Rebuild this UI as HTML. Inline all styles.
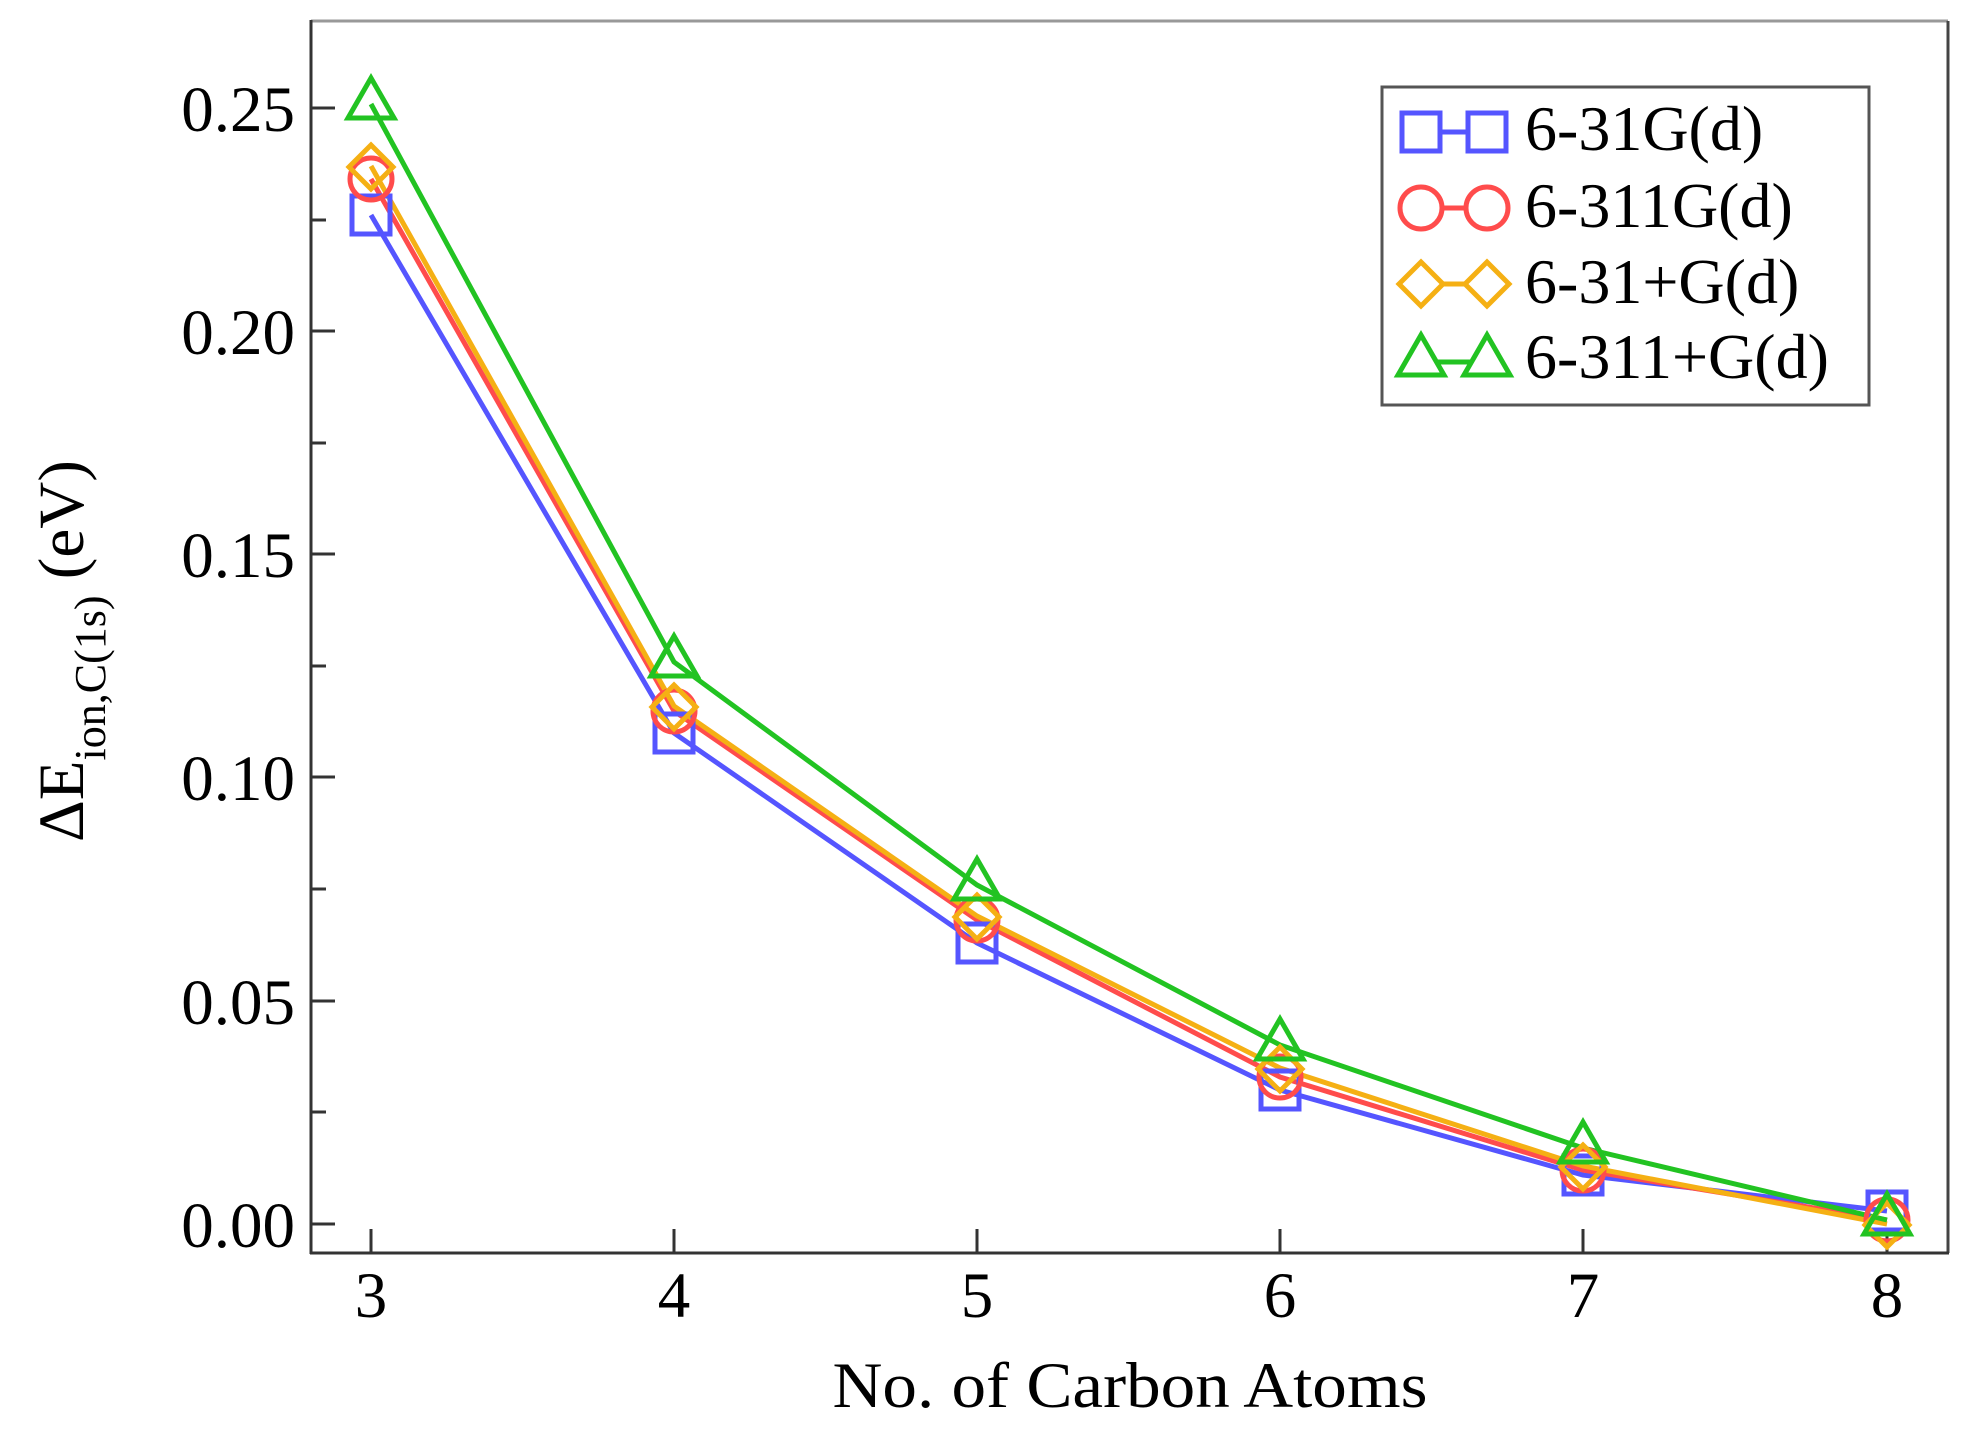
<!DOCTYPE html>
<html><head><meta charset="utf-8"><style>
html,body{margin:0;padding:0;background:#fff;}
svg{display:block;}
text{font-family:"Liberation Serif",serif;fill:#000;}
</style></head><body>
<svg width="1977" height="1445" viewBox="0 0 1977 1445" xmlns="http://www.w3.org/2000/svg">
<rect width="1977" height="1445" fill="#fff"/>
<line x1="311" y1="21" x2="1948" y2="21" stroke="#999" stroke-width="3"/>
<line x1="1948" y1="21" x2="1948" y2="1253" stroke="#444" stroke-width="3"/>
<line x1="311" y1="20" x2="311" y2="1254" stroke="#333" stroke-width="3"/>
<line x1="310" y1="1253" x2="1949" y2="1253" stroke="#333" stroke-width="3"/>
<g stroke="#333" stroke-width="3">
<line x1="311" y1="108" x2="335" y2="108"/><line x1="311" y1="220" x2="326" y2="220"/>
<line x1="311" y1="331" x2="335" y2="331"/><line x1="311" y1="443" x2="326" y2="443"/>
<line x1="311" y1="554" x2="335" y2="554"/><line x1="311" y1="666" x2="326" y2="666"/>
<line x1="311" y1="777" x2="335" y2="777"/><line x1="311" y1="889" x2="326" y2="889"/>
<line x1="311" y1="1001" x2="335" y2="1001"/><line x1="311" y1="1112" x2="326" y2="1112"/>
<line x1="311" y1="1224" x2="335" y2="1224"/>
<line x1="371" y1="1253" x2="371" y2="1229"/><line x1="674" y1="1253" x2="674" y2="1229"/>
<line x1="977" y1="1253" x2="977" y2="1229"/><line x1="1280" y1="1253" x2="1280" y2="1229"/>
<line x1="1583" y1="1253" x2="1583" y2="1229"/><line x1="1887" y1="1253" x2="1887" y2="1229"/>
</g>
<g font-size="65" text-anchor="end">
<text x="295" y="131">0.25</text><text x="295" y="354">0.20</text>
<text x="295" y="577">0.15</text><text x="295" y="800">0.10</text>
<text x="295" y="1024">0.05</text><text x="295" y="1247">0.00</text>
</g>
<g font-size="65" text-anchor="middle">
<text x="371" y="1317">3</text><text x="674" y="1317">4</text><text x="977" y="1317">5</text>
<text x="1280" y="1317">6</text><text x="1583" y="1317">7</text><text x="1887" y="1317">8</text>
</g>
<text x="1130" y="1407" font-size="65" text-anchor="middle" textLength="595" lengthAdjust="spacingAndGlyphs">No. of Carbon Atoms</text>
<text transform="translate(83,842) rotate(-90)" font-size="65">ΔE<tspan font-size="44" dy="22">ion,C(1s)</tspan><tspan dy="-22"> (eV)</tspan></text>
<g fill="none" stroke-width="5">
<polyline stroke="#5555ff" points="371,215 674,733 977,943 1280,1090 1583,1175 1887,1211"/>
<polyline stroke="#ff4c4c" points="371,179 674,711 977,920 1280,1077 1583,1170 1887,1220"/>
<polyline stroke="#f5b014" points="371,166 674,706 977,916 1280,1068 1583,1166 1887,1224"/>
<polyline stroke="#22c322" points="371,104 674,662 977,885 1280,1045 1583,1148 1887,1220"/>
</g>
<g fill="none" stroke-width="5">
<g stroke="#5555ff">
<rect x="352" y="196" width="38" height="38"/><rect x="655" y="714" width="38" height="38"/>
<rect x="958" y="924" width="38" height="38"/><rect x="1261" y="1071" width="38" height="38"/>
<rect x="1564" y="1156" width="38" height="38"/><rect x="1868" y="1192" width="38" height="38"/>
</g>
<g stroke="#ff4c4c">
<circle cx="371" cy="179" r="21"/><circle cx="674" cy="711" r="21"/><circle cx="977" cy="920" r="21"/>
<circle cx="1280" cy="1077" r="21"/><circle cx="1583" cy="1170" r="21"/><circle cx="1887" cy="1220" r="21"/>
</g>
<g stroke="#f5b014">
<path d="M371,145 l22,22 -22,22 -22,-22z M674,685 l22,22 -22,22 -22,-22z M977,895 l22,22 -22,22 -22,-22z M1280,1047 l22,22 -22,22 -22,-22z M1583,1145 l22,22 -22,22 -22,-22z M1887,1203 l22,22 -22,22 -22,-22z"/>
</g>
<g stroke="#22c322">
<path d="M371,78 l23,40 h-46z M674,636 l23,40 h-46z M977,859 l23,40 h-46z M1280,1019 l23,40 h-46z M1583,1122 l23,40 h-46z M1887,1194 l23,40 h-46z"/>
</g>
</g>
<rect x="1382" y="87" width="487" height="318" fill="#fff" stroke="#555" stroke-width="3"/>
<g fill="none" stroke-width="5">
<line x1="1421" y1="132" x2="1487" y2="132" stroke="#5555ff"/>
<rect x="1402" y="113" width="38" height="38" stroke="#5555ff" fill="#fff"/>
<rect x="1468" y="113" width="38" height="38" stroke="#5555ff" fill="#fff"/>
<line x1="1421" y1="208" x2="1487" y2="208" stroke="#ff4c4c"/>
<circle cx="1421" cy="208" r="21" stroke="#ff4c4c" fill="#fff"/>
<circle cx="1487" cy="208" r="21" stroke="#ff4c4c" fill="#fff"/>
<line x1="1421" y1="284" x2="1487" y2="284" stroke="#f5b014"/>
<path d="M1421,262 l22,22 -22,22 -22,-22z M1487,262 l22,22 -22,22 -22,-22z" stroke="#f5b014" fill="#fff"/>
<line x1="1421" y1="362" x2="1487" y2="362" stroke="#22c322"/>
<path d="M1421,335 l23,40 h-46z M1487,335 l23,40 h-46z" stroke="#22c322" fill="#fff"/>
</g>
<g font-size="64">
<text x="1525" y="150">6-31G(d)</text>
<text x="1525" y="227">6-311G(d)</text>
<text x="1525" y="303">6-31+G(d)</text>
<text x="1525" y="378">6-311+G(d)</text>
</g>
</svg>
</body></html>
